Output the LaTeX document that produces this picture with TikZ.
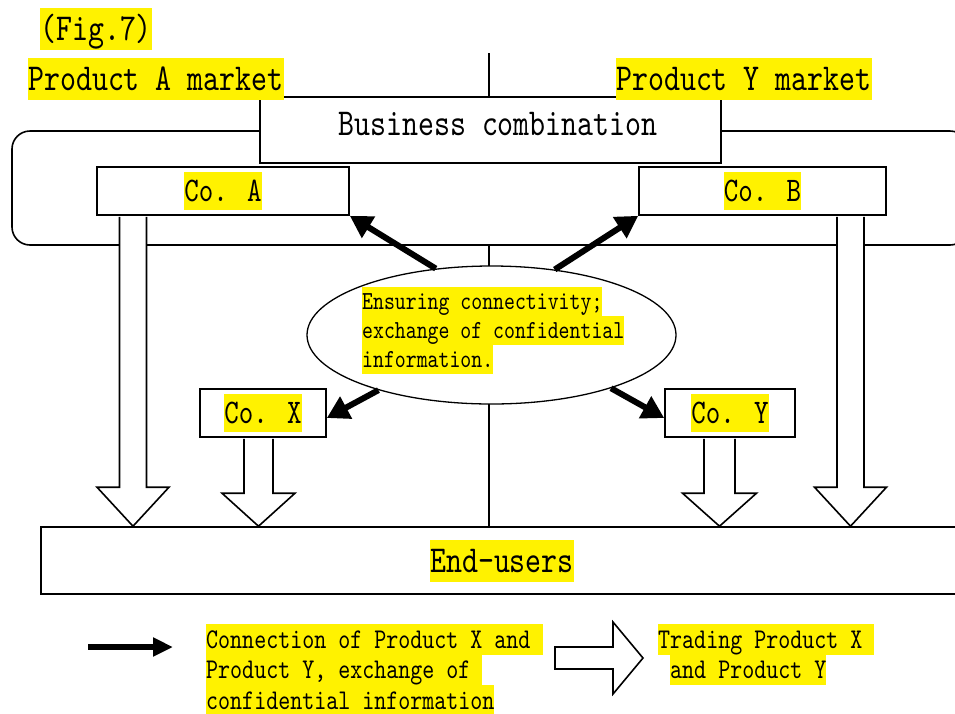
\documentclass[tikz,border=0pt]{standalone}
\usepackage{fontspec}
\usepackage{xcolor}
\usepackage{tikz}
\usetikzlibrary{
		calc,
		shapes.geometric,
		arrows.meta
	}
\newfontfamily\mincho[FakeStretch=0.8]{lmmono10-regular.otf}
\newcommand{\hl}[1]{{\setlength{\fboxsep}{0pt}\colorbox{yellow}{\rule[-0.22\baselineskip]{0pt}{\baselineskip}#1}}}
\tikzset{
		box/.style={draw, fill=white, line width=1.6pt, inner sep=0pt},
		big/.style={font=\mincho\fontsize{38}{42}\selectfont, inner sep=0pt},
		co/.style={font=\mincho\fontsize{34.5}{38}\selectfont},
		note/.style={font=\mincho\fontsize{26}{29}\selectfont, inner sep=0pt},
		keytext/.style={font=\mincho\fontsize{28.6}{30.5}\selectfont, inner sep=0pt},
		link/.style={line width=6pt, -{Triangle[length=22pt,width=24pt]}},
		hollow/.style={draw, fill=white, line width=1.6pt}
	}

\begin{document}
\begin{tikzpicture}[x=1pt, y=-1pt]
    \useasboundingbox (0,0) rectangle (955,713);

    % end-users first, the middle line runs down to it
    \node[box, minimum width=922, minimum height=67] (users) at (502,560.5) {};
    \node[big] (usersTxt) at (users.center) {\hl{End-users}};

    % the line between the two markets
    \coordinate (mtop) at (489,53);
    \draw[line width=1.3pt] (mtop) -- (mtop |- users.north);

    % the business combination frame
    \draw[line width=1.6pt, fill=white, rounded corners=18] (12,131) rectangle (968,245);

    % the companies
    \node[box, big, minimum width=461, minimum height=66] (biz) at (490.5,130) {\rule[-12pt]{0pt}{12pt}\hspace*{15pt}Business combination};
    \node[box, co, minimum width=252, minimum height=48] (coA) at (223,191) {\hl{Co. A}};
    \node[box, co, minimum width=247, minimum height=48] (coB) at (762.5,191) {\hl{Co. B}};
    \node[box, co, minimum width=126, minimum height=48] (coX) at (263,413) {\hl{Co. X}};
    \node[box, co, minimum width=130, minimum height=48] (coY) at (730,413) {\hl{Co. Y}};

    % the ellipse in the middle
    \node[ellipse, draw, fill=white, line width=1.3pt, inner sep=0pt, minimum width=369, minimum height=138] (conf) at (491.5,335) {};
    \node[note, anchor=north west, align=left] (confTxt) at (362,287) {\hl{Ensuring connectivity;}\\\hl{exchange of confidential}\\\hl{information.}};

    % draw the arrows
    \draw[link] (conf.130) -- (coA.south east);
    \draw[link] (conf.46) -- (coB.south west);
    \draw[link] (conf.206) -- ([yshift=-5pt]coX.east);
    \draw[link] (conf.336) -- ([yshift=-5pt]coY.west);

    % the trading arrows down to the end-users
    \foreach \co/\cx/\sw/\hw/\hh in {coA/133/13.5/36/39, coX/258.5/14.5/36.5/33, coY/719.5/15.5/37/33, coB/850.5/13.5/36/39}
    {
        \coordinate (top) at (\cx,0 |- \co.south);
        \coordinate (tip) at (\cx,0 |- users.north);
        \filldraw[hollow] ($(top)+(-\sw,1)$) -- ($(tip)+(-\sw,-\hh)$) -- ($(tip)+(-\hw,-\hh)$) -- (tip) -- ($(tip)+(\hw,-\hh)$) -- ($(tip)+(\sw,-\hh)$) -- ($(top)+(\sw,1)$);
    }

    % the texts
    \node[big, anchor=north west] (fig) at (40,8) {\hl{(Fig.7)}};
    \node[big, anchor=north west] (mktA) at (28,58) {\hl{Product A market}};
    \node[big, anchor=north west] (mktY) at (616,58) {\hl{Product Y market}};

    % the key at the bottom
    \coordinate (k1) at (88,647);
    \coordinate (k2) at (173,647);
    \draw[link, -{Triangle[length=20pt,width=18pt]}] (k1) -- (k2);
    \node[keytext, anchor=north west, align=left] (linkTxt) at (206,624) {\hl{Connection of Product X and\ }\\\hl{Product Y, exchange of\ }\\\hl{confidential information}};
    \coordinate (h0) at (555,647);
    \filldraw[hollow] (h0) -- ++(58,0) -- ++(0,-25) -- ++(30,36) -- ++(-30,36) -- ++(0,-25) -- ++(-58,0) -- cycle;
    \node[keytext, anchor=north west, align=left] (tradeTxt) at (658,624) {\hl{Trading Product X\ }\\\hspace*{12pt}\hl{and Product Y}};

\end{tikzpicture}
\end{document}
